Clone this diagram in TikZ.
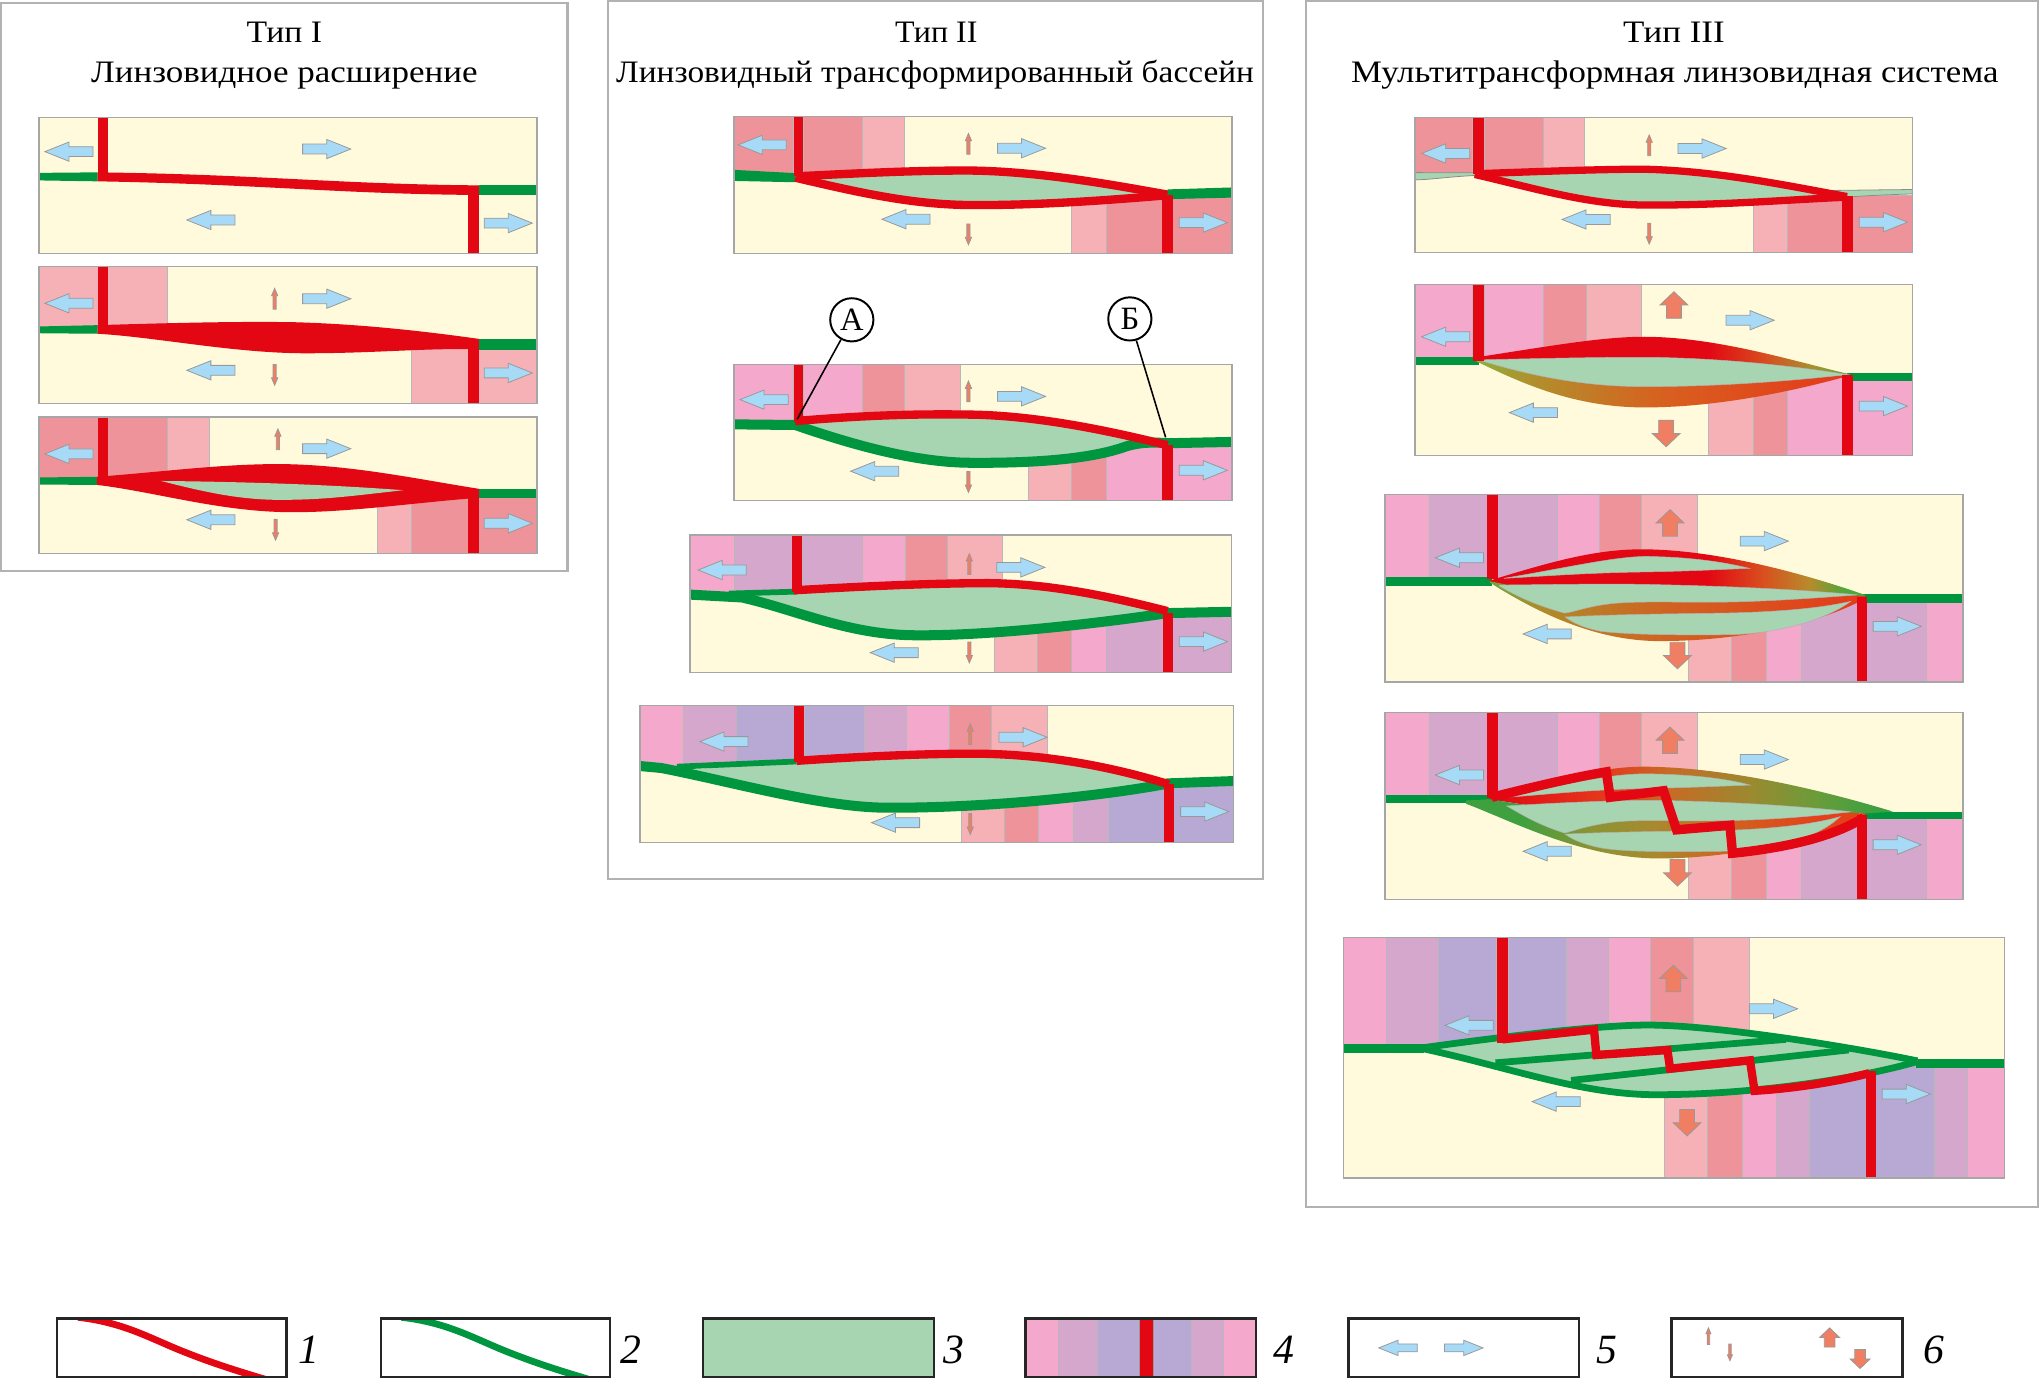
\documentclass[tikz,border=0pt]{standalone}
\usepackage{fontspec}
\setmainfont{Liberation Serif}
\usepackage{graphicx}
\definecolor{cream}{HTML}{FFFADC}
\definecolor{lpink}{HTML}{F5B1B6}
\definecolor{salmon}{HTML}{EE939A}
\definecolor{pinkb}{HTML}{F3A8CC}
\definecolor{mauve}{HTML}{D6A7CC}
\definecolor{lav}{HTML}{B7A9D3}
\definecolor{fred}{HTML}{E30613}
\definecolor{hgreen}{HTML}{00963F}
\definecolor{lgreen}{HTML}{A8D5B1}
\definecolor{ablue}{HTML}{A6DAF6}
\definecolor{aor}{HTML}{EF7E62}
\definecolor{cOrA}{HTML}{D65020}
\definecolor{cOlA}{HTML}{A8902E}
\definecolor{cGrA}{HTML}{5EA83C}
\definecolor{cYgA}{HTML}{8CB03C}
\definecolor{cObA}{HTML}{B0902C}
\definecolor{cOmA}{HTML}{D8601F}
\definecolor{cRoA}{HTML}{E5381A}
\definecolor{cOrB}{HTML}{D8501E}
\definecolor{cObB}{HTML}{B88A2C}
\definecolor{cGrB}{HTML}{4CA83A}
\definecolor{cGrC}{HTML}{6AA83A}
\definecolor{cObC}{HTML}{B08A2A}
\definecolor{cOmC}{HTML}{D26020}
\definecolor{cRoB}{HTML}{E53A1A}
\definecolor{cRoD}{HTML}{E4381C}
\definecolor{cOrD}{HTML}{C86A25}
\definecolor{cOlD}{HTML}{9A8A30}
\definecolor{cOgD}{HTML}{6A9C3A}
\definecolor{cGrD}{HTML}{3FA040}
\definecolor{cOgE}{HTML}{8A9433}
\definecolor{cObE}{HTML}{A88A2E}
\definecolor{cOmE}{HTML}{D0621F}
\definecolor{cRoE}{HTML}{E5401A}
\pgfdeclarehorizontalshading{upII}{100bp}{color(0bp)=(fred); color(25bp)=(fred); color(56bp)=(fred); color(64bp)=(cOrA); color(70bp)=(cOlA); color(75bp)=(cGrA); color(100bp)=(cGrA)}
\pgfdeclarehorizontalshading{loII}{100bp}{color(0bp)=(cYgA); color(25bp)=(cYgA); color(32.5bp)=(cObA); color(50bp)=(cOmA); color(75bp)=(cRoA); color(100bp)=(cRoA)}
\pgfdeclarehorizontalshading{upIII}{100bp}{color(0bp)=(fred); color(25bp)=(fred); color(54bp)=(fred); color(61.5bp)=(cOrB); color(67.5bp)=(cObB); color(72.5bp)=(cGrB); color(100bp)=(cGrB)}
\pgfdeclarehorizontalshading{loIII}{100bp}{color(0bp)=(cGrC); color(25bp)=(cGrC); color(32bp)=(cObC); color(50bp)=(cOmC); color(75bp)=(cRoB); color(100bp)=(cRoB)}
\pgfdeclarehorizontalshading{upIV}{100bp}{color(0bp)=(fred); color(25bp)=(fred); color(39bp)=(cRoD); color(47bp)=(cOrD); color(57.5bp)=(cOlD); color(65.5bp)=(cOgD); color(72.5bp)=(cGrD); color(100bp)=(cGrD)}
\pgfdeclarehorizontalshading{loIV}{100bp}{color(0bp)=(cGrD); color(25bp)=(cGrD); color(32bp)=(cGrD); color(40.5bp)=(cOgE); color(48.5bp)=(cObE); color(58bp)=(cOmE); color(69.5bp)=(cRoE); color(100bp)=(cRoE)}
\newdimen\natw
\newcommand{\fitto}[2]{\settowidth{\natw}{#2}\scalebox{\fpeval{#1/\natw}}[1]{#2}}
\newcommand{\ArrB}[4]{\path[barrow,shift={(#1,#2)},xscale=#3*#4,yscale=#4] (-18.5,-3.8) -- (0,-3.8) -- (0,-7.4) -- (18.5,0) -- (0,7.4) -- (0,3.8) -- (-18.5,3.8) -- cycle;}
\newcommand{\ArrS}[4]{\path[oarrow,shift={(#1,#2)},xscale=#4,yscale=#3*#4] (-1.2,8) -- (-1.2,-2.3) -- (-2.4,-2.3) -- (0,-8) -- (2.4,-2.3) -- (1.2,-2.3) -- (1.2,8) -- cycle;}
\newcommand{\ArrO}[4]{\path[oarrow,shift={(#1,#2)},xscale=#4,yscale=#3*#4] (-5.7,10.2) -- (-5.7,0) -- (-10.7,0) -- (0,-10.2) -- (10.7,0) -- (5.7,0) -- (5.7,10.2) -- cycle;}
\tikzset{
 pbg/.style={fill=cream},
 pframe/.style={draw=black!35, line width=0.5pt},
 blk/.style={draw=black!28, line width=0.25pt},
 barrow/.style={fill=ablue, draw=black!40, line width=0.3pt},
 oarrow/.style={fill=aor, draw=black!40, line width=0.3pt},
 redband/.style={draw=fred, line width=3.2pt},
 redthin/.style={draw=fred, line width=2.8pt},
 grnband/.style={draw=hgreen, line width=3.85pt},
 grnthin/.style={draw=hgreen, line width=2.2pt},
 grnfive/.style={draw=hgreen, line width=2.6pt},
 lens/.style={fill=lgreen},
 lensb/.style={fill=lgreen, draw=black!30, line width=0.2pt},
 bigframe/.style={draw=black!30, line width=0.8pt},
 ttl/.style={font=\fontsize{12}{14}\selectfont, inner sep=0pt, anchor=base},
 circ/.style={circle, draw=black, line width=0.75pt, fill=white, minimum size=16.6pt, inner sep=0pt, font=\fontsize{12.5}{13}\selectfont},
 lbl/.style={draw=black, line width=0.6pt},
 lgbox/.style={draw=black!85, line width=0.9pt},
 lglab/.style={font=\fontsize{16}{16}\selectfont\itshape, inner sep=0pt},
}
\begin{document}
\begin{tikzpicture}[x=0.5pt,y=-0.5pt]
\useasboundingbox (0,0) rectangle (1568,1061);
\fill[white] (0,0) rectangle (1568,1061);
% ---------- frames and titles
\draw[bigframe] (1,2) rectangle (436,439);
\draw[bigframe] (467,1) rectangle (970,675);
\draw[bigframe] (1003,1) rectangle (1566,927);
\node[ttl] (t1a) at (218.5,33) {\fitto{29pt}{Тип I}};
\node[ttl] (t1b) at (218.5,63) {\fitto{148.5pt}{Линзовидное расширение}};
\node[ttl] (t2a) at (719.3,33) {\fitto{31.6pt}{Тип II}};
\node[ttl] (t2b) at (718.4,63) {\fitto{245pt}{Линзовидный трансформированный бассейн}};
\node[ttl] (t3a) at (1286,33) {\fitto{39pt}{Тип III}};
\node[ttl] (t3b) at (1286.7,63) {\fitto{248.7pt}{Мультитрансформная линзовидная система}};
% ================= TYPE I =================
% I-1
\fill[pbg] (30,90) rectangle (412.5,194.5);
\ArrB{53}{116.5}{-1}{1}\ArrB{251}{114.5}{1}{1}\ArrB{162}{169}{-1}{1}\ArrB{390.5}{171.4}{1}{1}
\fill[hgreen] (30,132.8) -- (75,132.4) -- (75,139.3) -- (30,138.6) -- cycle;
\fill[fred] (75,132.4) .. controls (200,134) and (260,141.5) .. (368,142.4) -- (368,149.8) .. controls (260,149) and (200,141.5) .. (75,139.3) -- cycle;
\fill[hgreen] (368,142.4) rectangle (412.5,149.8);
\fill[fred] (75.3,90) rectangle (83.3,133);
\fill[fred] (359.5,149.5) rectangle (368,194.5);
\draw[pframe] (30,90) rectangle (412.5,194.5);
% I-2
\fill[pbg] (30,204.6) rectangle (412.5,309.8);
\fill[lpink,blk] (30,204.6) rectangle (128.5,251.5);
\fill[lpink,blk] (316,263) rectangle (412.5,309.8);
\ArrB{53}{233}{-1}{1}\ArrB{251}{229.5}{1}{1}\ArrB{162}{284.5}{-1}{1}\ArrB{390.5}{286.5}{1}{1}
\ArrS{211}{229.5}{1}{1}\ArrS{211}{288}{-1}{1}
\fill[hgreen] (30,250.8) -- (75,249.8) -- (75,256.4) -- (30,256) -- cycle;
\fill[fred] (75,249.8) .. controls (150,247.5) and (190,247) .. (225,247.5) .. controls (280,249) and (330,255) .. (369,260.5) -- (369,268.5) .. controls (330,267) and (290,271.4) .. (235,271.4) .. controls (180,271.4) and (120,259) .. (75,256.4) -- cycle;
\fill[hgreen] (368,260.5) rectangle (412.5,268.5);
\fill[fred] (75.3,204.6) rectangle (83.3,250);
\fill[fred] (359.5,268) rectangle (368,309.8);
\draw[pframe] (30,204.6) rectangle (412.5,309.8);
% I-3
\fill[pbg] (30,320.3) rectangle (412.5,425.4);
\fill[salmon,blk] (30,320.3) rectangle (128.5,368);
\fill[lpink,blk] (128.5,320.3) rectangle (161,364);
\fill[lpink,blk] (290,385) rectangle (316.3,425.4);
\fill[salmon,blk] (316.3,382) rectangle (412.5,425.4);
\ArrB{53}{348.7}{-1}{1}\ArrB{251}{344.7}{1}{1}\ArrB{162}{399.3}{-1}{1}\ArrB{390.5}{402}{1}{1}
\ArrS{213.5}{337.5}{1}{1}\ArrS{211.7}{407}{-1}{1}
\fill[hgreen] (30,366.8) -- (75,366.3) -- (75,372.5) -- (30,372.3) -- cycle;
\fill[fred] (74.5,366.3) .. controls (130,362) and (170,356.5) .. (215,356.5) .. controls (270,357) and (320,368) .. (369,375.7) -- (369,382.3) .. controls (320,386) and (270,393.5) .. (225,393.5) .. controls (170,393.5) and (120,378) .. (74.5,372.5) -- cycle;
\fill[lens] (123.6,369.5) .. controls (180,370) and (250,372) .. (309.8,376.6) .. controls (270,381) and (250,384) .. (215,384) .. controls (180,384) and (150,376) .. (123.6,369.5) -- cycle;
\fill[hgreen] (368,375.7) rectangle (412.5,382.3);
\fill[fred] (75.3,320.3) rectangle (83.3,367);
\fill[fred] (359.5,381) rectangle (368,425.4);
\draw[pframe] (30,320.3) rectangle (412.5,425.4);
% ================= TYPE II =================
% II-1
\fill[pbg] (564,89.6) rectangle (946.5,194.5);
\fill[salmon,blk] (564,89.6) rectangle (609.6,134);
\fill[salmon,blk] (617.2,89.6) rectangle (662.8,132);
\fill[lpink,blk] (662.8,89.6) rectangle (694.4,131);
\fill[lpink,blk] (823.4,152) rectangle (850,194.5);
\fill[salmon,blk] (850,150) rectangle (946.5,194.5);
\ArrB{585.6}{111.3}{-1}{1}\ArrB{784.8}{113.9}{1}{1}\ArrB{696}{168.4}{-1}{1}\ArrB{924.4}{171}{1}{1}
\ArrS{744}{110.5}{1}{1}\ArrS{744}{180}{-1}{1}
\fill[hgreen] (564,130.5) -- (611,133) -- (611,140) -- (564,139) -- cycle;
\fill[lens] (611,135.5) .. controls (680,132) and (710,131) .. (744,131) .. controls (800,131.5) and (860,143) .. (897,149.5) .. controls (860,153) and (800,158) .. (744,157.5) .. controls (700,157) and (660,148) .. (611,136.5) -- cycle;
\draw[redband] (611,135.5) .. controls (680,132) and (710,131) .. (744,131) .. controls (800,131.5) and (860,143) .. (897,149.5);
\draw[redband] (611,136.5) .. controls (660,148) and (700,157) .. (744,157.5) .. controls (800,158) and (860,153) .. (897,150);
\fill[hgreen] (897,145.5) -- (946.5,144) -- (946.5,151.8) -- (897,153) -- cycle;
\fill[fred] (609.6,89.6) rectangle (617.2,135);
\fill[fred] (892.9,150) rectangle (901.2,194.5);
\draw[pframe] (564,89.6) rectangle (946.5,194.5);
% II-2
\fill[pbg] (564,280.2) rectangle (946.5,384.6);
\fill[pinkb,blk] (564,280.2) rectangle (609.6,325);
\fill[pinkb,blk] (617.2,280.2) rectangle (662.8,322);
\fill[salmon,blk] (662.8,280.2) rectangle (695,320);
\fill[lpink,blk] (695,280.2) rectangle (737.6,319);
\fill[lpink,blk] (790,352) rectangle (823.4,384.6);
\fill[salmon,blk] (823.4,350) rectangle (850,384.6);
\fill[pinkb,blk] (850,343) rectangle (946.5,384.6);
\ArrB{587}{307}{-1}{1}\ArrB{784.8}{304.5}{1}{1}\ArrB{672}{362}{-1}{1}\ArrB{924.4}{361.3}{1}{1}
\ArrS{744}{300.7}{1}{1}\ArrS{744}{370.3}{-1}{1}
\fill[lens] (611,323.5) .. controls (670,318.5) and (710,318) .. (744,318.5) .. controls (800,319) and (860,333) .. (897,342) -- (897,340.5) .. controls (890,340) and (878,339) .. (865,343) .. controls (840,352) and (800,356) .. (744,355.5) .. controls (700,355) and (650,340) .. (611,326.5) -- cycle;
\draw[grnband] (564,326) -- (611,326.5) .. controls (650,340) and (700,355) .. (744,355.5) .. controls (800,356) and (840,352) .. (865,343) .. controls (878,339) and (890,340) .. (897,340.5) -- (946.5,339.5);
\draw[redband] (611,323.5) .. controls (670,318.5) and (710,318) .. (744,318.5) .. controls (800,319) and (860,333) .. (897,342);
\fill[fred] (609.6,280.2) rectangle (617.2,324);
\fill[fred] (892.9,342) rectangle (901.2,384.6);
\draw[pframe] (564,280.2) rectangle (946.5,384.6);
\node[circ] (A) at (654.4,245.7) {А};
\node[circ] (B) at (868,245) {Б};
\coordinate (Ap) at (612.5,322);
\coordinate (Bp) at (895.5,336);
\draw[lbl] (A) -- (Ap);
\draw[lbl] (B) -- (Bp);
% II-3
\fill[pbg] (530,411) rectangle (946,516.5);
\fill[pinkb,blk] (530,411) rectangle (563.9,458);
\fill[mauve,blk] (563.9,411) rectangle (608.4,457);
\fill[mauve,blk] (616.2,411) rectangle (662.3,455);
\fill[pinkb,blk] (662.3,411) rectangle (695.2,451);
\fill[salmon,blk] (695.2,411) rectangle (727.5,450);
\fill[lpink,blk] (727.5,411) rectangle (770.4,449);
\fill[lpink,blk] (763.5,482) rectangle (797,516.5);
\fill[salmon,blk] (797,480) rectangle (823,516.5);
\fill[pinkb,blk] (823,477) rectangle (849.8,516.5);
\fill[mauve,blk] (849.8,472) rectangle (946,516.5);
\ArrB{554.8}{437.9}{-1}{1}\ArrB{784.2}{435.9}{1}{1}\ArrB{687}{501.4}{-1}{1}\ArrB{924.5}{492.9}{1}{1}
\ArrS{744.7}{433.3}{1}{1}\ArrS{744.7}{501.3}{-1}{1}
\fill[lens] (575,458.5) -- (610,453.5) .. controls (670,450) and (720,448) .. (760,448) .. controls (810,448.5) and (860,460) .. (897,469.5) -- (897,471) .. controls (850,478) and (760,489) .. (700,488) .. controls (650,487) and (610,468) .. (570,459) -- cycle;
\draw[grnthin] (560,456) -- (612,454.5);
\draw[grnband] (530,456.8) -- (570,459) .. controls (610,468) and (650,487) .. (700,488) .. controls (760,489) and (850,478) .. (897,471) -- (946,470);
\draw[redband] (610,453.5) .. controls (670,450) and (720,448) .. (760,448) .. controls (810,448.5) and (860,460) .. (897,469.5);
\fill[fred] (608.4,411) rectangle (616.2,455);
\fill[fred] (893.7,471) rectangle (900.9,516.5);
\draw[pframe] (530,411) rectangle (946,516.5);
% II-4
\fill[pbg] (491.7,542) rectangle (947.6,647);
\fill[pinkb,blk] (491.7,542) rectangle (525.3,590);
\fill[mauve,blk] (525.3,542) rectangle (565.4,588);
\fill[lav,blk] (565.4,542) rectangle (609.9,587);
\fill[lav,blk] (617.8,542) rectangle (663.9,585);
\fill[mauve,blk] (663.9,542) rectangle (696.2,582.5);
\fill[pinkb,blk] (696.2,542) rectangle (729.1,581);
\fill[salmon,blk] (729.1,542) rectangle (761.4,580);
\fill[lpink,blk] (761.4,542) rectangle (804.3,580);
\fill[lpink,blk] (738.5,617) rectangle (771.4,647);
\fill[salmon,blk] (771.4,615) rectangle (798,647);
\fill[pinkb,blk] (798,613) rectangle (824.7,647);
\fill[mauve,blk] (824.7,610) rectangle (851.3,647);
\fill[lav,blk] (851.3,603) rectangle (947.6,647);
\ArrB{556.2}{569.7}{-1}{1}\ArrB{786}{566.4}{1}{1}\ArrB{688}{632}{-1}{1}\ArrB{925.5}{623.5}{1}{1}
\ArrS{745.4}{564}{1}{1}\ArrS{745.4}{633}{-1}{1}
\fill[lens] (540,590.5) -- (612,584.5) .. controls (680,580) and (720,579) .. (750,579) .. controls (810,579.5) and (860,591) .. (898,602.5) -- (897,602) .. controls (850,611) and (760,621) .. (680,620.5) .. controls (630,620) and (560,600) .. (508,590) -- cycle;
\draw[grnthin] (520,589) -- (612,585);
\draw[grnband] (491.7,588.5) -- (508,590) .. controls (560,600) and (630,620) .. (680,620.5) .. controls (760,621) and (850,611) .. (897,602);
\fill[hgreen] (896,598) -- (947.6,596.2) -- (947.6,603.8) -- (896,605.6) -- cycle;
\draw[redband] (612,584.5) .. controls (680,580) and (720,579) .. (750,579) .. controls (810,579.5) and (860,591) .. (898,602.5);
\fill[fred] (609.9,542) rectangle (617.8,585.5);
\fill[fred] (894.6,602) rectangle (902.1,647);
\draw[pframe] (491.7,542) rectangle (947.6,647);
% ================= TYPE III =================
% III-1
\fill[pbg] (1087,90) rectangle (1469,194);
\fill[salmon,blk] (1087,90) rectangle (1131.3,135);
\fill[salmon,blk] (1140.3,90) rectangle (1185.6,132);
\fill[lpink,blk] (1185.6,90) rectangle (1217.2,130.5);
\fill[lpink,blk] (1346.9,156) rectangle (1373,194);
\fill[salmon,blk] (1373,150) rectangle (1469,194);
\ArrB{1110.6}{117.9}{-1}{1}\ArrB{1307.6}{114.1}{1}{1}\ArrB{1218.5}{168.6}{-1}{1}\ArrB{1446.9}{170.7}{1}{1}
\ArrS{1267}{111.6}{1}{1}\ArrS{1267}{179.5}{-1}{1}
\fill[lgreen, draw=black!45, line width=0.3pt] (1087,132.6) -- (1134,132.8) -- (1134,134.8) .. controls (1115,135.5) and (1100,138) .. (1087,138.2) -- cycle;
\fill[lgreen, draw=black!45, line width=0.3pt] (1395,146.5) .. controls (1430,146) and (1450,145.8) .. (1469,145.6) -- (1469,149) .. controls (1450,149.5) and (1430,150.5) .. (1419,151.5) -- cycle;
\fill[lens] (1133,133.5) .. controls (1190,131.5) and (1230,130) .. (1262,130) .. controls (1320,131) and (1380,144) .. (1419,151) .. controls (1380,153) and (1320,158) .. (1262,157.5) .. controls (1220,157) and (1180,145) .. (1133,134) -- cycle;
\draw[redthin] (1133,133.5) .. controls (1190,131.5) and (1230,130) .. (1262,130) .. controls (1320,131) and (1380,144) .. (1419,151);
\draw[redthin] (1133,134) .. controls (1180,145) and (1220,157) .. (1262,157.5) .. controls (1320,158) and (1380,153) .. (1419,151.5);
\fill[fred] (1131.3,90) rectangle (1140.3,133.5);
\fill[fred] (1415,150.5) rectangle (1423.7,194);
\draw[pframe] (1087,90) rectangle (1469,194);
% III-2
\fill[pbg] (1087,218.6) rectangle (1469,350);
\fill[pinkb,blk] (1087,218.6) rectangle (1131.3,278);
\fill[pinkb,blk] (1140.3,218.6) rectangle (1185.6,276);
\fill[salmon,blk] (1185.6,218.6) rectangle (1218.3,272);
\fill[lpink,blk] (1218.3,218.6) rectangle (1260.7,266);
\fill[lpink,blk] (1312.5,303) rectangle (1346.9,350);
\fill[salmon,blk] (1346.9,298) rectangle (1373,350);
\fill[pinkb,blk] (1373,290) rectangle (1469,350);
\ArrB{1110.6}{258.7}{-1}{1}\ArrB{1344.5}{246}{1}{1}\ArrB{1178}{317}{-1}{1}\ArrB{1446.9}{312}{1}{1}
\ArrO{1286}{234.3}{1}{1}\ArrO{1280}{333}{-1}{1}
\fill[hgreen] (1087,273.9) rectangle (1136,280.3);
\fill[hgreen] (1419,286.6) rectangle (1469,293);
\shade[shading=upII] (1133,274.7) .. controls (1190,266) and (1230,258.7) .. (1263.6,258.7) .. controls (1320,259) and (1380,278) .. (1421,287.5) -- (1421,288.5) .. controls (1380,288) and (1320,285) .. (1263.6,285) .. controls (1220,285) and (1170,280) .. (1133,277) -- cycle;
\shade[shading=loII] (1133,276.5) .. controls (1170,280) and (1220,285) .. (1263.6,285) .. controls (1320,285) and (1380,288) .. (1421,288.5) .. controls (1380,300) and (1320,313) .. (1263.6,313) .. controls (1210,313) and (1170,295) .. (1133,277) -- cycle;
\fill[lensb] (1136,276.5) .. controls (1180,275.5) and (1220,274.5) .. (1263.6,274.5) .. controls (1330,275) and (1390,283) .. (1419,287.8) .. controls (1390,291) and (1330,297) .. (1263.6,297) .. controls (1220,297) and (1180,290) .. (1136,276.5) -- cycle;
\fill[fred] (1131.3,218.6) rectangle (1140.3,277);
\fill[fred] (1415,288) rectangle (1423.7,350);
\draw[pframe] (1087,218.6) rectangle (1469,350);
% III-3
\fill[pbg] (1064,380) rectangle (1508,524);
\fill[pinkb,blk] (1064,380) rectangle (1098.1,447);
\fill[mauve,blk] (1098.1,380) rectangle (1142.6,447);
\fill[mauve,blk] (1150.6,380) rectangle (1196.3,445);
\fill[pinkb,blk] (1196.3,380) rectangle (1228.5,436);
\fill[salmon,blk] (1228.5,380) rectangle (1261.2,430);
\fill[lpink,blk] (1261.2,380) rectangle (1303.9,430);
\fill[lpink,blk] (1297.4,488) rectangle (1330.4,524);
\fill[salmon,blk] (1330.4,485) rectangle (1357.2,524);
\fill[pinkb,blk] (1357.2,480) rectangle (1383.6,524);
\fill[mauve,blk] (1383.6,461) rectangle (1479.7,524);
\fill[pinkb,blk] (1479.7,461) rectangle (1508,524);
\ArrB{1121.2}{428.5}{-1}{1}\ArrB{1355.4}{415.7}{1}{1}\ArrB{1188.6}{487}{-1}{1}\ArrB{1457.5}{481.2}{1}{1}
\ArrO{1283}{401.7}{1}{1}\ArrO{1288.7}{503.6}{-1}{1}
\fill[hgreen] (1064,443.3) rectangle (1146,450.1);
\fill[hgreen] (1431,456) rectangle (1508,462.9);
\shade[shading=upIII] (1144.5,446) .. controls (1190,432) and (1225,422) .. (1261,422) .. controls (1320,422) and (1390,442) .. (1432.6,457) -- (1432.6,458.5) .. controls (1380,455) and (1300,455) .. (1250,456) .. controls (1200,457) and (1170,452) .. (1144.5,447) -- cycle;
\shade[shading=loIII] (1144.5,446.5) .. controls (1170,452) and (1200,457) .. (1250,456) .. controls (1300,455) and (1380,455) .. (1432.6,458) -- (1432.6,460) .. controls (1400,478) and (1340,492.5) .. (1275,492.5) .. controls (1225,492.5) and (1180,470) .. (1144.5,447.5) -- cycle;
\fill[lensb] (1155.3,444.3) .. controls (1200,437) and (1240,427.5) .. (1265,427.5) .. controls (1300,428) and (1325,432) .. (1343.8,436.6) .. controls (1310,438) and (1290,439) .. (1255,439.5) .. controls (1210,440.5) and (1180,443) .. (1155.3,444.3) -- cycle;
\fill[lensb] (1151.7,449.5) .. controls (1200,449) and (1230,448.5) .. (1253,448.8) .. controls (1330,450) and (1390,453.5) .. (1427,457) .. controls (1400,459) and (1360,462) .. (1325.7,462.5) .. controls (1290,463) and (1265,461.5) .. (1240,463.5) .. controls (1220,465.5) and (1210,470) .. (1202,471) .. controls (1180,465) and (1165,458) .. (1151.7,450.1) -- cycle;
\fill[lensb] (1202.4,474) .. controls (1240,472) and (1290,471.5) .. (1325.7,471) .. controls (1370,470) and (1400,467) .. (1421.7,462) .. controls (1400,478) and (1360,487.5) .. (1325.7,487.6) .. controls (1290,488) and (1250,487.5) .. (1230,485) .. controls (1215,482) and (1208,478) .. (1202.4,474) -- cycle;
\fill[fred] (1142.6,380) rectangle (1150.6,445);
\fill[fred] (1426.4,459) rectangle (1434.4,524);
\draw[pframe] (1064,380) rectangle (1508,524);
% III-4
\fill[pbg] (1064,547.5) rectangle (1508,691);
\fill[pinkb,blk] (1064,547.5) rectangle (1098.1,614);
\fill[mauve,blk] (1098.1,547.5) rectangle (1142.6,614);
\fill[mauve,blk] (1150.6,547.5) rectangle (1196.3,612);
\fill[pinkb,blk] (1196.3,547.5) rectangle (1228.5,604);
\fill[salmon,blk] (1228.5,547.5) rectangle (1261.2,597);
\fill[lpink,blk] (1261.2,547.5) rectangle (1303.9,597);
\fill[lpink,blk] (1297.4,655) rectangle (1330.4,691);
\fill[salmon,blk] (1330.4,652) rectangle (1357.2,691);
\fill[pinkb,blk] (1357.2,647) rectangle (1383.6,691);
\fill[mauve,blk] (1383.6,627) rectangle (1479.7,691);
\fill[pinkb,blk] (1479.7,626) rectangle (1508,691);
\ArrB{1121.2}{595.4}{-1}{1}\ArrB{1355.4}{583.5}{1}{1}\ArrB{1188.6}{654}{-1}{1}\ArrB{1457.5}{649}{1}{1}
\ArrO{1283}{568.7}{1}{1}\ArrO{1288.7}{670.5}{-1}{1}
\fill[hgreen] (1064,610.7) rectangle (1146,617.1);
\fill[hgreen] (1431,623.5) rectangle (1508,629.3);
\shade[shading=upIV] (1144.5,612) .. controls (1190,600) and (1230,589) .. (1262,589) .. controls (1330,589) and (1410,610) .. (1454.3,623.5) -- (1432.6,625) .. controls (1380,622) and (1300,622) .. (1250,623) .. controls (1200,624) and (1170,618) .. (1144.5,614) -- cycle;
\shade[shading=loIV] (1126.3,615) -- (1144.5,614) .. controls (1170,618) and (1200,624) .. (1250,623) .. controls (1300,622) and (1380,622) .. (1432.6,625) -- (1432.6,626.5) .. controls (1400,645) and (1330,659.5) .. (1275,659.5) .. controls (1215,659.5) and (1160,630) .. (1126.3,617.5) -- cycle;
\fill[lensb] (1157,612.5) .. controls (1200,603) and (1235,594.5) .. (1265,594.5) .. controls (1300,595) and (1325,598) .. (1344.5,603.1) .. controls (1310,604.5) and (1280,605.5) .. (1253,606) .. controls (1210,607.5) and (1180,611) .. (1157,612.5) -- cycle;
\fill[lensb] (1157.5,619.2) .. controls (1200,616.5) and (1240,615) .. (1265,614.8) .. controls (1330,615.5) and (1390,620) .. (1421.3,623.6) .. controls (1395,627) and (1360,630) .. (1320,630.5) .. controls (1280,631) and (1260,629.5) .. (1240,631.5) .. controls (1220,634) and (1210,638) .. (1202,640) .. controls (1180,633) and (1168,625) .. (1157.5,619.2) -- cycle;
\fill[lensb] (1202.4,640.8) .. controls (1240,639) and (1290,638.5) .. (1325,638) .. controls (1370,636.5) and (1398,632) .. (1413.6,627.4) .. controls (1395,645) and (1360,653.5) .. (1320,654) .. controls (1280,654.5) and (1245,654.5) .. (1228,651) .. controls (1215,648) and (1208,645) .. (1202.4,640.8) -- cycle;
\draw[fred, line width=3.6pt, line join=miter] (1146,612.5) .. controls (1180,604) and (1210,597) .. (1234,593) -- (1237,612.5) -- (1278,607.5) -- (1288,637.5) -- (1329,634) -- (1331,655.5) .. controls (1375,651) and (1410,642) .. (1432,628);
\fill[fred] (1142.6,547.5) rectangle (1150.6,613);
\fill[fred] (1426.4,626) rectangle (1434.4,691);
\draw[pframe] (1064,547.5) rectangle (1508,691);
% III-5
\fill[pbg] (1032,720) rectangle (1540,905);
\fill[pinkb,blk] (1032,720) rectangle (1065.4,806);
\fill[mauve,blk] (1065.4,720) rectangle (1104.8,806);
\fill[lav,blk] (1104.8,720) rectangle (1149.9,806);
\fill[lav,blk] (1158.4,720) rectangle (1203.5,800);
\fill[mauve,blk] (1203.5,720) rectangle (1235.9,795);
\fill[pinkb,blk] (1235.9,720) rectangle (1268,792);
\fill[salmon,blk] (1268,720) rectangle (1301,792);
\fill[lpink,blk] (1301,720) rectangle (1343.7,795);
\fill[lpink,blk] (1278.5,838) rectangle (1312,905);
\fill[salmon,blk] (1312,838) rectangle (1338.4,905);
\fill[pinkb,blk] (1338.4,833) rectangle (1364.9,905);
\fill[mauve,blk] (1364.9,830) rectangle (1390.2,905);
\fill[lav,blk] (1390.2,816) rectangle (1486.4,905);
\fill[mauve,blk] (1486.4,816) rectangle (1511.7,905);
\fill[pinkb,blk] (1511.7,816) rectangle (1540,905);
\ArrB{1128.6}{787.7}{-1}{1}\ArrB{1362.5}{775}{1}{1}\ArrB{1195.5}{846.3}{-1}{1}\ArrB{1464.5}{840.5}{1}{1}
\ArrO{1285.6}{751.7}{1}{1}\ArrO{1296.1}{862.5}{-1}{1}
\fill[hgreen] (1032,802.3) rectangle (1094,808.6);
\fill[hgreen] (1472,813.2) rectangle (1540,820.1);
\fill[lensb] (1092.5,805) .. controls (1150,797) and (1230,787) .. (1268.7,787.5) .. controls (1320,788) and (1420,804) .. (1473,815) .. controls (1430,828) and (1350,841) .. (1272,841) .. controls (1215,841) and (1160,820) .. (1092.5,805.5) -- cycle;
\draw[grnfive] (1092.5,805) .. controls (1150,797) and (1230,787) .. (1268.7,787.5) .. controls (1320,788) and (1420,804) .. (1473,815);
\draw[grnfive] (1092.5,805.5) .. controls (1160,820) and (1215,841) .. (1272,841) .. controls (1350,841) and (1430,828) .. (1473,815.5);
\draw[grnfive] (1148.9,816.5) -- (1372,798.5);
\draw[grnfive] (1207,830) -- (1420.3,806.6);
\draw[fred, line width=3.2pt, line join=miter] (1154.2,798.5) -- (1224.6,791) -- (1226.4,810.5) -- (1281,806.7) -- (1283,821) -- (1344.4,814.6) -- (1347.9,838) .. controls (1380,836) and (1410,831) .. (1436,824.5);
\fill[fred] (1149.9,720) rectangle (1158.4,801);
\fill[fred] (1433.5,823) rectangle (1441.3,905);
\draw[pframe] (1032,720) rectangle (1540,905);
% ================= LEGEND =================
\begin{scope}
\clip (44,1013) rectangle (220,1058);
\draw[fred, line width=2.6pt] (60,1012) .. controls (95,1016) and (115,1028) .. (140,1038) .. controls (165,1048) and (185,1054) .. (205,1060);
\end{scope}
\draw[lgbox] (44,1013) rectangle (220,1058);
\node[lglab] (l1) at (237.5,1037) {1};
\begin{scope}
\clip (292.5,1013) rectangle (468.5,1058);
\draw[hgreen, line width=2.6pt] (308.5,1012) .. controls (343.5,1016) and (363.5,1028) .. (388.5,1038) .. controls (413.5,1048) and (433.5,1054) .. (453.5,1060);
\end{scope}
\draw[lgbox] (292.5,1013) rectangle (468.5,1058);
\node[lglab] (l2) at (485,1037) {2};
\fill[lgreen] (540,1013) rectangle (717.5,1058);
\draw[lgbox] (540,1013) rectangle (717.5,1058);
\node[lglab] (l3) at (732.5,1037) {3};
\fill[pinkb,blk] (787.7,1013) rectangle (812.7,1058);
\fill[mauve,blk] (812.7,1013) rectangle (842.7,1058);
\fill[lav,blk] (842.7,1013) rectangle (875.2,1058);
\fill[lav,blk] (886.3,1013) rectangle (915.3,1058);
\fill[mauve,blk] (915.3,1013) rectangle (939.8,1058);
\fill[pinkb,blk] (939.8,1013) rectangle (964.8,1058);
\fill[fred, draw=black!40, line width=0.25pt] (875.2,1013) rectangle (886.3,1058);
\draw[lgbox] (787.7,1013) rectangle (964.8,1058);
\node[lglab] (l4) at (986,1037) {4};
\ArrB{1074}{1035.5}{-1}{0.8}\ArrB{1124.5}{1035.5}{1}{0.8}
\draw[lgbox] (1036,1013) rectangle (1213,1058);
\node[lglab] (l5) at (1234.5,1037) {5};
\ArrS{1312.5}{1026.5}{1}{0.8}\ArrS{1329}{1039}{-1}{0.8}
\ArrO{1405.6}{1027.5}{1}{0.72}\ArrO{1429}{1044}{-1}{0.72}
\draw[lgbox] (1284,1013) rectangle (1461.6,1058);
\node[lglab] (l6) at (1485.6,1037) {6};
\end{tikzpicture}
\end{document}
